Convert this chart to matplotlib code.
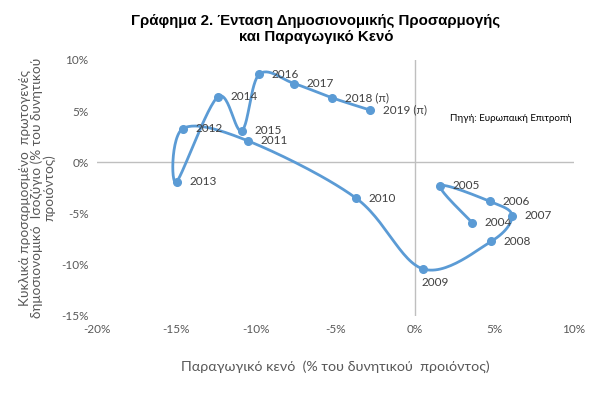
import numpy as np
import matplotlib
matplotlib.use("Agg")
import matplotlib.pyplot as plt

years = ["2004", "2005", "2006", "2007", "2008", "2009", "2010", "2011",
         "2012", "2013", "2014", "2015", "2016", "2017", "2018 (π)", "2019 (π)"]
output_gap = [3.6, 1.6, 4.7, 6.1, 4.8, 0.5, -3.7, -10.5,
              -14.6, -15.0, -12.4, -10.9, -9.8, -7.6, -5.2, -2.8]
primary_balance = [-5.9, -2.3, -3.8, -5.2, -7.7, -10.4, -3.5, 2.1,
                   3.3, -1.9, 6.4, 3.1, 8.6, 7.7, 6.3, 5.1]

xticks = [-20, -15, -10, -5, 0, 5, 10]
yticks = [-15, -10, -5, 0, 5, 10]

blue = "#5B9BD5"
grey_txt = "#595959"
plt.rcParams['font.family'] = ['Lato', 'DejaVu Sans']

fig = plt.figure(figsize=(6.07, 3.94), dpi=100)
ax = fig.add_axes([97/607, 1-316/394, (574-97)/607, (316-60)/394])


def smooth(xs, ys, sx, sy, n=30):
    # catmull-rom through the points, done in screen-ish scale
    P = np.column_stack([np.array(xs) * sx, np.array(ys) * sy])
    P = np.vstack([P[0], P, P[-1]])
    out = []
    for i in range(1, len(P) - 2):
        p0, p1, p2, p3 = P[i-1], P[i], P[i+1], P[i+2]
        t = np.linspace(0, 1, n)[:, None]
        seg = 0.5 * ((2*p1) + (-p0 + p2)*t + (2*p0 - 5*p1 + 4*p2 - p3)*t**2
                     + (-p0 + 3*p1 - 3*p2 + p3)*t**3)
        out.append(seg)
    out = np.vstack(out)
    return out[:, 0] / sx, out[:, 1] / sy


sx_, sy_ = smooth(output_gap, primary_balance, 16.0, 10.2)
ax.plot(sx_, sy_, color=blue, lw=2, zorder=3)
ax.plot(output_gap, primary_balance, "o", color=blue, ms=5.5, zorder=4)

for yr, x, y in zip(years, output_gap, primary_balance):
    if yr == "2009":
        ax.annotate(yr, (x, y), xytext=(-1, -10), textcoords="offset points",
                    ha="left", va="center", fontsize=8.5, color="#404040")
    else:
        ax.annotate(yr, (x, y), xytext=(9, 0), textcoords="offset points",
                    ha="left", va="center", fontsize=8.5, color="#404040")

ax.axhline(0, color="#BFBFBF", lw=1, zorder=1)
ax.axvline(0, color="#BFBFBF", lw=1, zorder=1)

ax.set_xlim(-20, 10)
ax.set_ylim(-15, 10)
ax.set_xticks(xticks)
ax.set_yticks(yticks)
ax.set_xticklabels([f"{v}%" for v in xticks])
ax.set_yticklabels([f"{v}%" for v in yticks])
ax.tick_params(length=0, labelsize=8.5, colors=grey_txt, pad=6)
for s in ax.spines.values():
    s.set_visible(False)

ax.set_xlabel("Παραγωγικό κενό  (% του δυνητικού  προιόντος)", fontsize=10.3,
              color=grey_txt, labelpad=18)
ax.set_ylabel("Κυκλικά προσαρμοσμένο  πρωτογενές\nδημοσιονομικό  Ισοζύγιο (% του δυνητικού\nπροιόντος)",
              fontsize=9.8, color=grey_txt, labelpad=4, linespacing=0.95)

fig.text(316/607, 1-29/394, "Γράφημα 2. Ένταση Δημοσιονομικής Προσαρμογής\nκαι Παραγωγικό Κενό",
         ha="center", va="center", fontsize=10.8, fontweight="bold",
         family=["Liberation Sans", "DejaVu Sans"], linespacing=1.15)
ax.text(0.995, 0.77, "Πηγή: Ευρωπαική Επιτροπή", transform=ax.transAxes,
        ha="right", va="center", fontsize=7, color="#000000")

fig.savefig("out.png", dpi=100)
